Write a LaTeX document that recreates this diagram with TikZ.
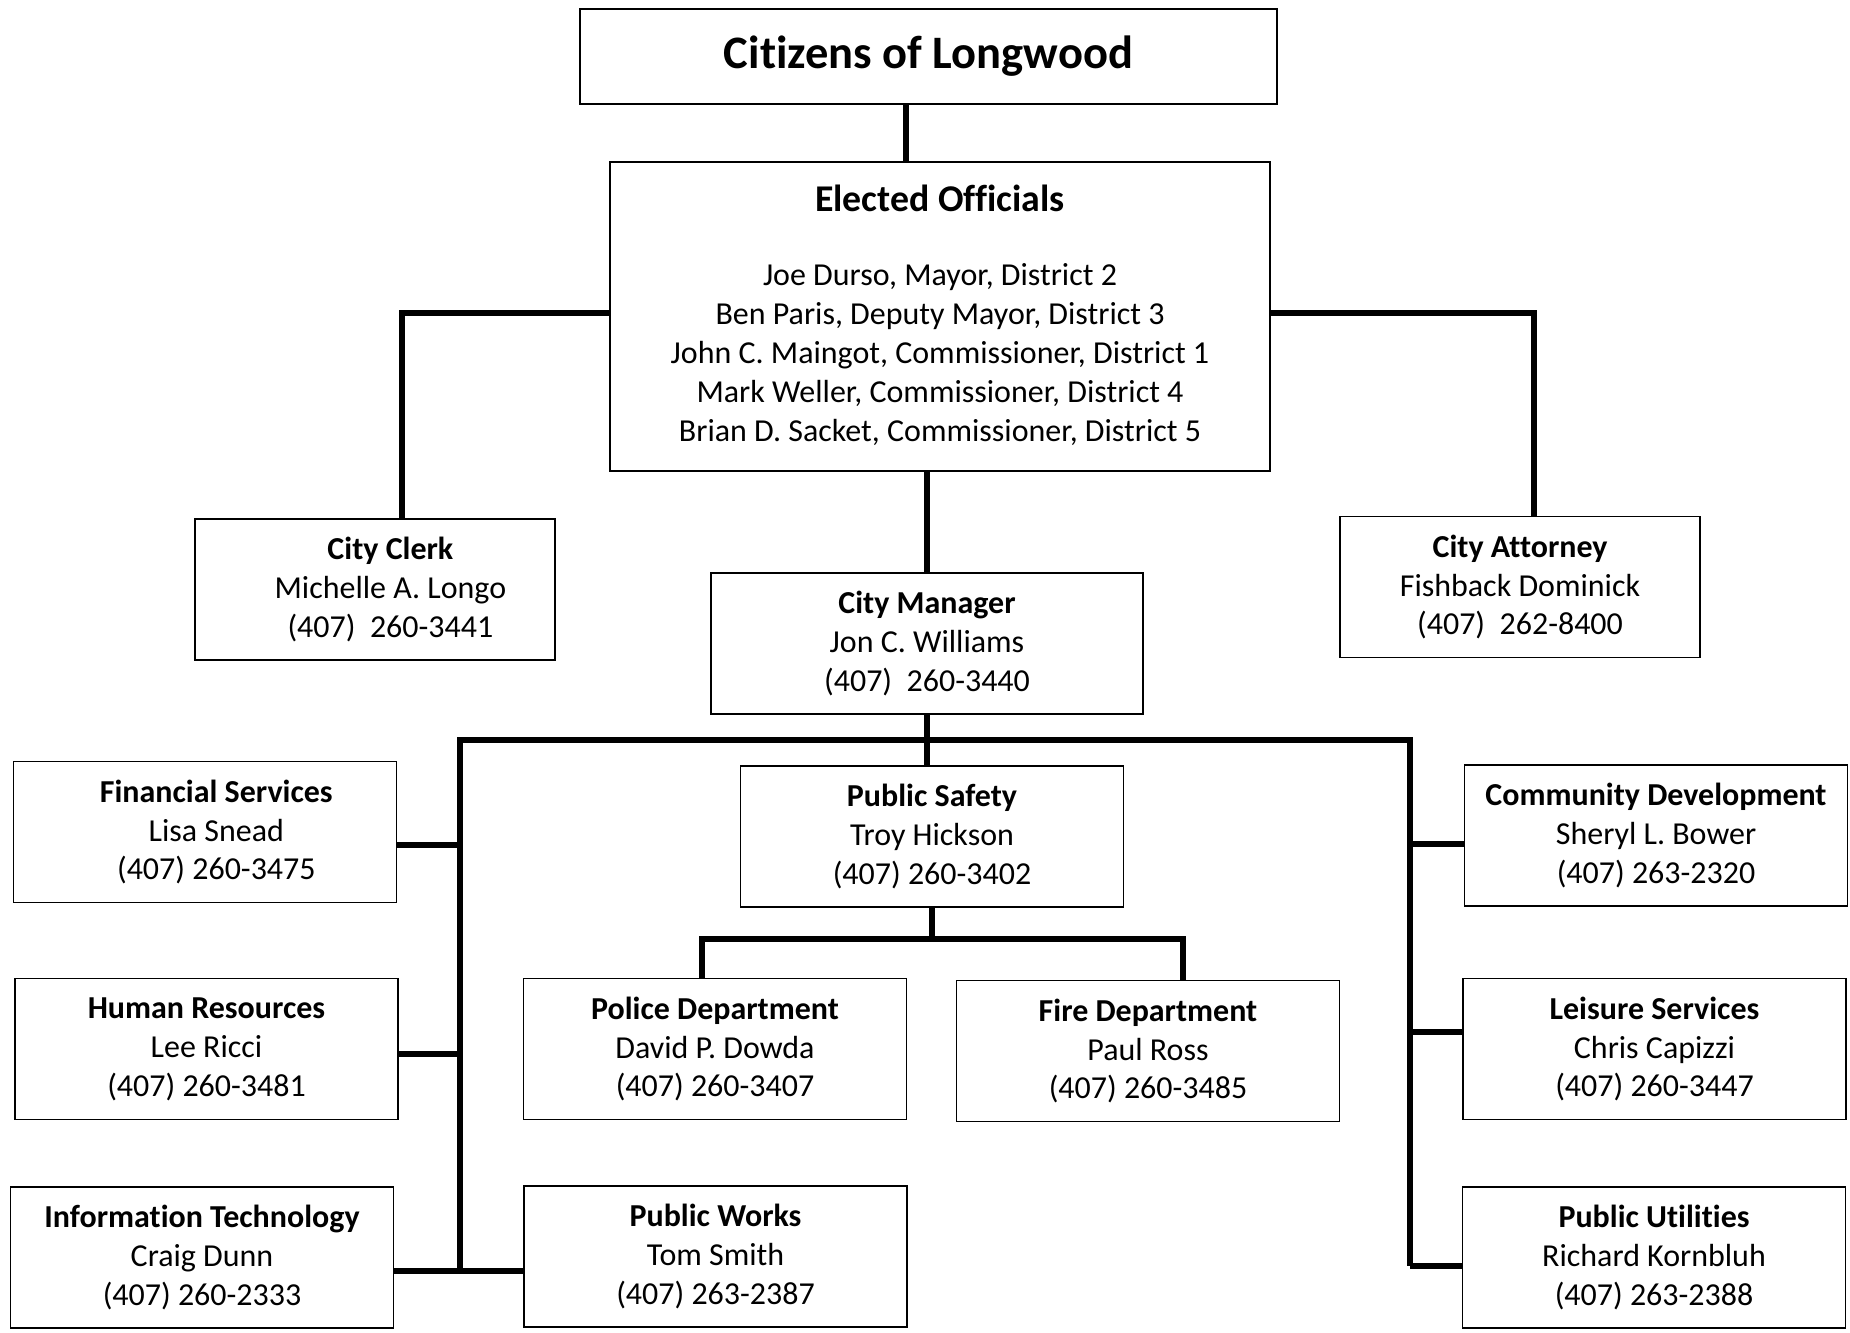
\documentclass[tikz,border=0pt]{standalone}
\usepackage{fontspec}
\setmainfont{Carlito}[Ligatures=NoCommon]
\begin{document}
\begin{tikzpicture}[x=0.344pt, y=-0.344pt,
	box/.style={draw, line width=0.5pt, align=center, inner sep=0pt, font=\fontsize{11}{13.4}\selectfont},
	unit/.style={box, minimum width=131.8pt, minimum height=48.5pt},
	txt/.style={align=center, inner sep=0pt, font=\fontsize{11}{13.4}\selectfont},
	wire/.style={line width=1.9pt}]
	\useasboundingbox (0,0) rectangle (1850,1332);
	% Buerger und Gewaehlte
	\node[box, minimum width=239.8pt, minimum height=32.7pt, font=\fontsize{16}{19}\selectfont\bfseries] (citizens) at (928.5,56.5) {Citizens of Longwood};
	\node[box, minimum width=227pt, minimum height=106.3pt] (elected) at (940,316.5) {{\fontsize{13}{16}\selectfont\bfseries Elected Officials}\\[12.3pt]
		Joe Durso, Mayor, District 2\\
		Ben Paris, Deputy Mayor, District 3\\
		John C. Maingot, Commissioner, District 1\\
		Mark Weller, Commissioner, District 4\\
		Brian D. Sacket, Commissioner, District 5\\[-11pt]};
	% Clerk, Attorney, Manager
	\node[box, minimum width=123.8pt, minimum height=48.5pt] (clerk) at (375,589.5) {};
	\node[txt] (clerktext) at ([xshift=5.3pt]clerk) {\textbf{City Clerk}\\Michelle A. Longo\\(407)~ 260-3441};
	\node[box, minimum width=123.8pt, minimum height=48.5pt] (attorney) at (1520,587) {\textbf{City Attorney}\\Fishback Dominick\\(407)~ 262-8400};
	\node[box, minimum width=148.6pt, minimum height=48.5pt] (manager) at (927,643.5) {\textbf{City Manager}\\Jon C. Williams\\(407)~ 260-3440};
	% Abteilungen links
	\node[unit] (finance) at (205,832) {};
	\node[txt] (financetext) at ([xshift=3.9pt]finance) {\textbf{Financial Services}\\Lisa Snead\\(407) 260-3475};
	\node[unit] (hr) at (206.5,1049) {\textbf{Human Resources}\\Lee Ricci\\(407) 260-3481};
	\node[unit] (it) at (202,1257.5) {\textbf{Information Technology}\\Craig Dunn\\(407) 260-2333};
	% Abteilungen Mitte
	\node[unit] (safety) at (932,836.5) {\textbf{Public Safety}\\Troy Hickson\\(407) 260-3402};
	\node[unit] (police) at (715,1049) {\textbf{Police Department}\\David P. Dowda\\(407) 260-3407};
	\node[unit] (fire) at (1148,1051) {\textbf{Fire Department}\\Paul Ross\\(407) 260-3485};
	\node[unit] (works) at (715.5,1256.5) {\textbf{Public Works}\\Tom Smith\\(407) 263-2387};
	% Abteilungen rechts
	\node[unit] (commdev) at (1656,835.5) {\textbf{Community Development}\\Sheryl L. Bower\\(407) 263-2320};
	\node[unit] (leisure) at (1654.5,1049) {\textbf{Leisure Services}\\Chris Capizzi\\(407) 260-3447};
	\node[unit] (utilities) at (1654,1257.5) {\textbf{Public Utilities}\\Richard Kornbluh\\(407) 263-2388};
	% Knickpunkte
	\coordinate (citx) at (906,0);
	\coordinate (clerkbend) at (402,313);
	\coordinate (attbend) at (1534,313);
	\coordinate (lbus) at (460,740);
	\coordinate (rbus) at (1410,740);
	\coordinate (lend) at (460,1271);
	\coordinate (rend) at (1410,1266);
	\coordinate (polbend) at (702,939);
	\coordinate (firebend) at (1183,939);
	% Linien oben
	\draw[wire] (citizens.south -| citx) -- (elected.north -| citx);
	\draw[wire] (elected.west |- clerkbend) -- (clerkbend) -- (clerkbend |- clerk.north);
	\draw[wire] (elected.east |- attbend) -- (attbend) -- (attbend |- attorney.north);
	\draw[wire] (elected.south -| manager.north) -- (manager.north);
	\draw[wire] (manager.south) -- (safety.north -| manager.south);
	% Sammelschiene
	\draw[wire] (lend) -- (lbus) -- (rbus) -- (rend);
	\draw[wire] ([yshift=-4.5pt]finance.east) -- ([yshift=-4.5pt]finance.east -| lbus);
	\draw[wire] ([yshift=-1.7pt]hr.east) -- ([yshift=-1.7pt]hr.east -| lbus);
	\draw[wire] (it.east |- lend) -- (works.west |- lend);
	\draw[wire] ([yshift=-2.9pt]commdev.west -| rbus) -- ([yshift=-2.9pt]commdev.west);
	\draw[wire] ([yshift=5.8pt]leisure.west -| rbus) -- ([yshift=5.8pt]leisure.west);
	\draw[wire] (rend) -- (utilities.west |- rend);
	% Public Safety Verzweigung
	\draw[wire] (safety.south) -- (safety.south |- polbend);
	\draw[wire] (polbend |- police.north) -- (polbend) -- (firebend) -- (firebend |- fire.north);
\end{tikzpicture}
\end{document}
